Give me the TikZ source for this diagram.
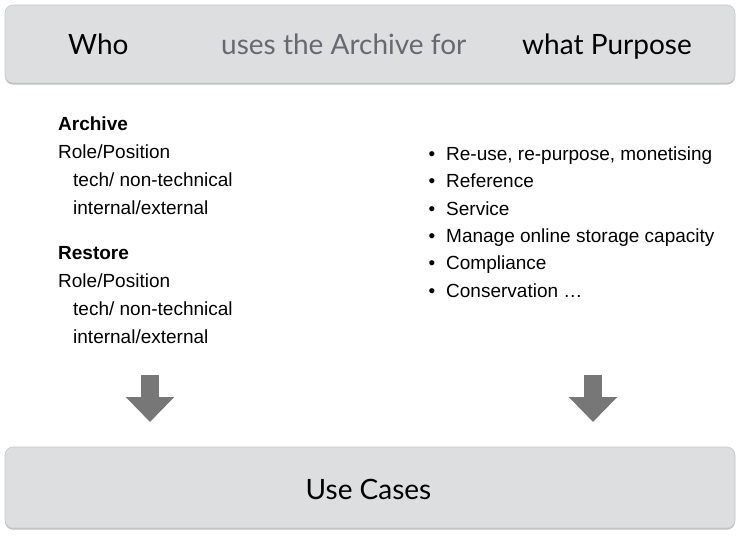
\documentclass[tikz,border=0pt]{standalone}
\usepackage{fontspec}
\setmainfont{Liberation Sans}
\newfontfamily\headfont{Lato}
\usepackage{tikz}
\usepackage{xcolor}
\usetikzlibrary{shapes, arrows.meta, shadows, calc, positioning}
\definecolor{panelgrey}{HTML}{DDDEE0}
\definecolor{panelline}{HTML}{C8C9CC}
\definecolor{arrowgrey}{HTML}{777777}
\definecolor{midgrey}{HTML}{666A70}

\tikzset{
    panel/.style={draw=panelline, fill=panelgrey, rounded corners=8pt, line width=0.6pt,
        drop shadow={shadow xshift=0pt, shadow yshift=-1.6pt, opacity=0.45, fill=black!55}},
    headtext/.style={inner sep=0pt, anchor=base west, font=\headfont\fontsize{28}{32}\selectfont},
    bodytext/.style={inner sep=0pt, anchor=base west, font=\fontsize{19}{22}\selectfont},
    bulletdot/.style={inner sep=0pt, anchor=base, font=\fontsize{19}{22}\selectfont},
    downarrow/.style={draw=arrowgrey, line width=18pt, line cap=butt,
        -{Triangle[width=47pt, length=25pt, fill=arrowgrey]}}
}

\begin{document}
\begin{tikzpicture}[x=1pt, y=-1pt]
            \useasboundingbox (0, 0) rectangle (737, 551);

            % header and footer panels
            \path[panel] (5, 5) rectangle (735, 83);
            \path[panel] (5, 447) rectangle (735, 528);

            \node[headtext] (who) at (68, 55) { Who };
            \node[headtext, text=midgrey] (uses) at (221, 55) { uses the Archive for };
            \node[headtext] (purpose) at (522, 55) { what Purpose };
            \node[headtext, anchor=base] (usecases) at (368.5, 499) { Use Cases };

            % who
            \node[bodytext, font=\fontsize{19}{22}\selectfont\bfseries] (archive) at (58, 130) { Archive };
            \node[bodytext] (archiverole) at (58, 158) { Role/Position };
            \node[bodytext] (archivetech) at (73, 186) { tech/ non-technical };
            \node[bodytext] (archiveint) at (73, 214) { internal/external };

            \node[bodytext, font=\fontsize{19}{22}\selectfont\bfseries] (restore) at (58, 259) { Restore };
            \node[bodytext] (restorerole) at (58, 287) { Role/Position };
            \node[bodytext] (restoretech) at (73, 315) { tech/ non-technical };
            \node[bodytext] (restoreint) at (73, 343) { internal/external };

            % what purpose
            \foreach \y/\item [count=\i] in {160/{Re-use, re-purpose, monetising},
                                             187.5/Reference,
                                             215/Service,
                                             242/Manage online storage capacity,
                                             269.5/Compliance,
                                             297/Conservation \dots} {
                \node[bulletdot] (dot\i) at (432, \y) { \textbullet };
                \node[bodytext] (purpose\i) at (446, \y) { \item };
            }

            % arrows down to the use cases
            \coordinate (lefttop) at (150, 375);
            \coordinate (leftend) at (150, 422);
            \coordinate (righttop) at (593, 375);
            \coordinate (rightend) at (593, 422);
            \draw[downarrow] (lefttop) -- (leftend);
            \draw[downarrow] (righttop) -- (rightend);

        \end{tikzpicture}
\end{document}
